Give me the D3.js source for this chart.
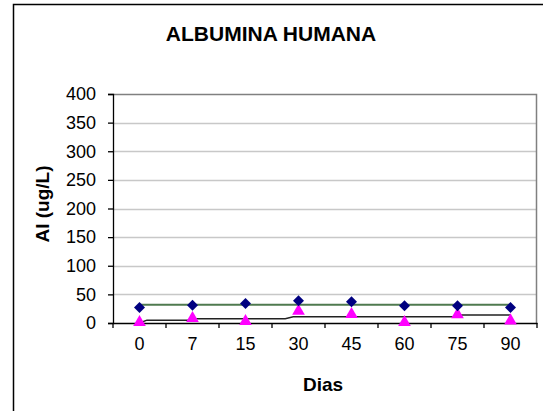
<!DOCTYPE html>
<html>
<head>
<meta charset="utf-8">
<script src="https://d3js.org/d3.v7.min.js"></script>
<style>
  body { margin: 0; background: #fff; }
  svg { display: block; font-family: "Liberation Sans", Arial, sans-serif; }
</style>
</head>
<body>
<svg></svg>
<script>
const width = 543;
const height = 411;
const margin = { top: 94, right: 6, bottom: 88, left: 113 };
const innerWidth = width - margin.left - margin.right;
const innerHeight = height - margin.top - margin.bottom;

// categories (days)
const dias = ['0', '7', '15', '30', '45', '60', '75', '90'];
// blue diamonds
const serieA = [27, 31, 34, 39, 37, 30, 30, 27];
// magenta triangles
const serieB = [1, 8, 3, 21, 15, 1, 14.5, 4];
// green level line (from first to last day)
const nivelVerde = [32, 32];
// black line, position in category units and value
const negraX = [0, 0.14, 0.95, 1.02, 2.75, 2.9, 5.93, 6.05, 7];
const negraY = [0, 5, 5, 7.5, 7.5, 11, 11, 14, 14];
const yTicks = [0, 50, 100, 150, 200, 250, 300, 350, 400];

const svg = d3.select('svg')
	.attr('width', width)
	.attr('height', height);

// outer chart border
svg.append('path')
	.attr('d', `M13.5,${height} V4.5 H${width}`)
	.attr('fill', 'none')
	.attr('stroke', '#000')
	.attr('stroke-width', 1.5);

svg.append('text')
	.attr('x', 271)
	.attr('y', 41)
	.attr('text-anchor', 'middle')
	.attr('font-weight', 'bold')
	.attr('font-size', 21)
	.text('ALBUMINA HUMANA');

const g = svg.append('g')
	.attr('transform', `translate(${margin.left}, ${margin.top})`);

const xScale = d3.scaleBand()
	.domain(dias)
	.range([0, innerWidth]);

const xIdx = d3.scaleLinear()
	.domain([0, dias.length - 1])
	.range([xScale.bandwidth() / 2, innerWidth - xScale.bandwidth() / 2]);

const yScale = d3.scaleLinear()
	.domain([0, 400])
	.range([innerHeight, 0]);

// gridlines
g.append('g')
	.selectAll('line')
	.data(yTicks.slice(1, -1))
	.enter().append('line')
	.attr('x1', 0)
	.attr('x2', innerWidth)
	.attr('y1', d => Math.round(yScale(d)) + 0.5)
	.attr('y2', d => Math.round(yScale(d)) + 0.5)
	.attr('stroke', '#c8c8c8')
	.attr('stroke-width', 1.5);

// plot area border (top, right)
g.append('path')
	.attr('d', `M0,0.5 H${innerWidth - 0.5} V${innerHeight}`)
	.attr('fill', 'none')
	.attr('stroke', '#808080')
	.attr('stroke-width', 1.5);

const yAxisG = g.append('g')
	.call(d3.axisLeft(yScale).tickValues(yTicks).tickSize(5).tickPadding(12));
yAxisG.selectAll('text').attr('font-size', 18).attr('fill', '#000').attr('font-family', 'Liberation Sans, Arial, sans-serif');
yAxisG.selectAll('line, .domain').attr('stroke', '#000').attr('stroke-width', 1.3);

const xAxisG = g.append('g')
	.attr('transform', `translate(0, ${innerHeight})`)
	.call(d3.axisBottom(xScale).tickSize(0).tickPadding(14));
xAxisG.select('.domain').attr('stroke', '#000').attr('stroke-width', 1.3);
xAxisG.selectAll('text').attr('font-size', 18).attr('fill', '#000').attr('font-family', 'Liberation Sans, Arial, sans-serif');

// category boundary ticks
g.append('g')
	.selectAll('line')
	.data(d3.range(dias.length + 1))
	.enter().append('line')
	.attr('x1', i => i * xScale.step())
	.attr('x2', i => i * xScale.step())
	.attr('y1', innerHeight)
	.attr('y2', innerHeight + 5)
	.attr('stroke', '#000')
	.attr('stroke-width', 1.3);

// green line
g.append('path')
	.datum(nivelVerde)
	.attr('fill', 'none')
	.attr('stroke', '#4f7a4f')
	.attr('stroke-width', 2)
	.attr('d', d3.line()
		.x((d, i) => xIdx(i * (dias.length - 1)))
		.y(d => yScale(d)));

// black line
g.append('path')
	.datum(negraY)
	.attr('fill', 'none')
	.attr('stroke', '#222')
	.attr('stroke-width', 1.5)
	.attr('d', d3.line()
		.x((d, i) => xIdx(negraX[i]))
		.y(d => yScale(d)));

// triangles
g.append('g')
	.selectAll('path')
	.data(serieB)
	.enter().append('path')
	.attr('transform', (d, i) => `translate(${xScale(dias[i]) + xScale.bandwidth() / 2}, ${yScale(d)})`)
	.attr('d', d3.symbol().type(d3.symbolTriangle).size(70))
	.attr('fill', '#ff00ff');

// diamonds
g.append('g')
	.selectAll('path')
	.data(serieA)
	.enter().append('path')
	.attr('transform', (d, i) => `translate(${xScale(dias[i]) + xScale.bandwidth() / 2}, ${yScale(d)}) rotate(45)`)
	.attr('d', d3.symbol().type(d3.symbolSquare).size(60))
	.attr('fill', '#000080');

svg.append('text')
	.attr('x', 323)
	.attr('y', 391)
	.attr('text-anchor', 'middle')
	.attr('font-weight', 'bold')
	.attr('font-size', 19)
	.text('Dias');

svg.append('text')
	.attr('transform', 'translate(49, 204) rotate(-90)')
	.attr('text-anchor', 'middle')
	.attr('font-weight', 'bold')
	.attr('font-size', 19)
	.text('Al (ug/L)');
</script>
</body>
</html>
